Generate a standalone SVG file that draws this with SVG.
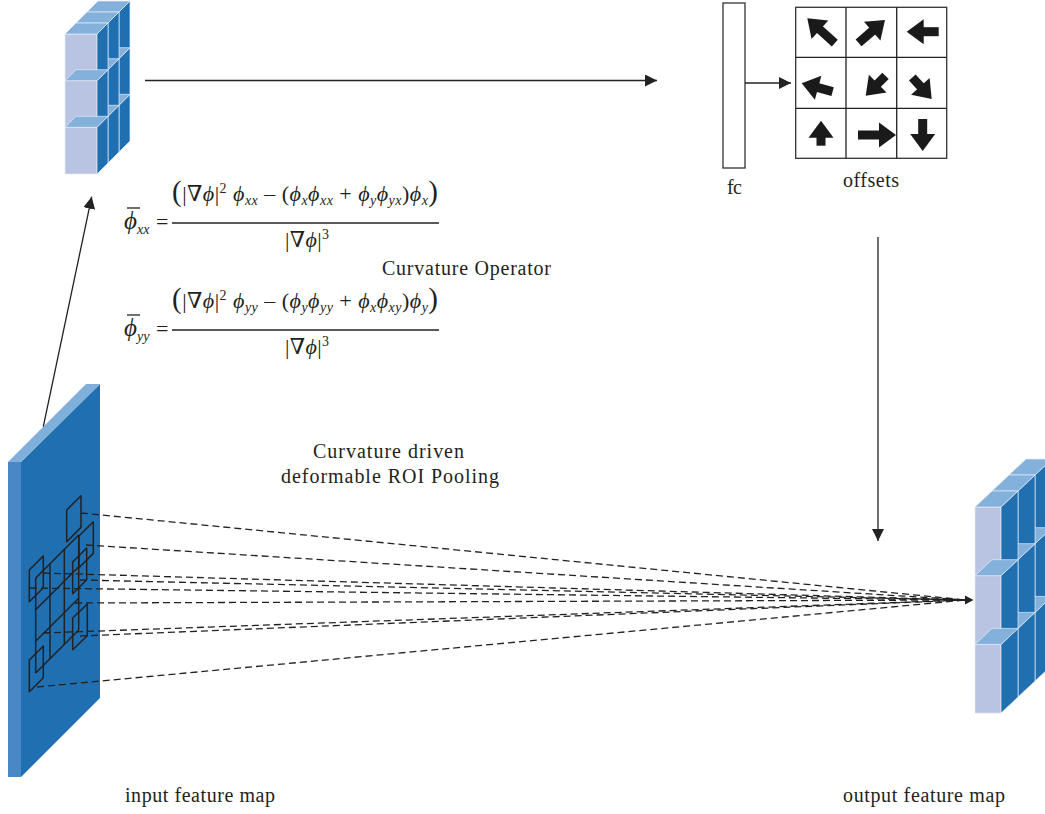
<svg xmlns="http://www.w3.org/2000/svg" xmlns:xlink="http://www.w3.org/1999/xlink" width="1045" height="814" viewBox="0 0 1045 814">
<style>
.bg{fill:#ffffff}
.cf{fill:#b9c3e2;stroke:#e6ecf6;stroke-width:0.7}
.ct{fill:#84b1dc;stroke:#e6ecf6;stroke-width:0.7}
.cs{fill:#1f6fb1;stroke:#e6ecf6;stroke-width:0.7}
.sl{fill:#4a87c6}
.sm{fill:#1f6fb1}
.st{fill:#80afdb}
.gr{fill:none;stroke:#222;stroke-width:1.5;stroke-linejoin:round}
.ln{fill:none;stroke:#222;stroke-width:1.3}
.dash{fill:none;stroke:#222;stroke-width:1.3;stroke-dasharray:7 4}
.box{fill:#fff;stroke:#333;stroke-width:1.3}
.fa{fill:#1a1a1a}
.t{font-family:"Liberation Serif","DejaVu Serif",serif;font-size:20px;fill:#231f20}
.m{font-family:"Liberation Serif","DejaVu Serif",serif;font-size:22px;fill:#231f20}
.it{font-style:italic}
.sb{font-size:14px}
.bp{font-size:29px}
.lp{font-size:25px}
</style>
<defs>
<marker id="ah" viewBox="0 0 12 12" refX="12" refY="6" markerWidth="12" markerHeight="12" markerUnits="userSpaceOnUse" orient="auto">
<path d="M0,0 L12,6 L0,12 z" fill="#222"/>
</marker>
<g id="cA">
<rect class="cf" x="0" y="0" width="32" height="46.7"/>
<polygon class="cs" points="32,0 43,-11 43,35.7 32,46.7"/>
<polygon class="ct" points="0,0 11,-11 43,-11 32,0"/>
</g>
<g id="cB">
<rect class="cf" x="0" y="0" width="26" height="68.7"/>
<polygon class="cs" points="26,0 43,-16 43,52.7 26,68.7"/>
<polygon class="ct" points="0,0 17,-16 43,-16 26,0"/>
</g>
<g id="fat">
<path d="M0,0 L-17,-12.5 L-17,12.5 Z"/>
</g>
</defs>
<rect class="bg" x="0" y="0" width="1045" height="814"/>

<g id="top-features">
<use xlink:href="#cA" x="87" y="12"/>
<use xlink:href="#cA" x="87" y="58.7"/>
<use xlink:href="#cA" x="87" y="105.3"/>
<use xlink:href="#cA" x="76" y="23"/>
<use xlink:href="#cA" x="76" y="69.7"/>
<use xlink:href="#cA" x="76" y="116.3"/>
<use xlink:href="#cA" x="65" y="34"/>
<use xlink:href="#cA" x="65" y="80.7"/>
<use xlink:href="#cA" x="65" y="127.3"/>
</g>

<g id="output-feature-map">
<use xlink:href="#cB" x="1009" y="475"/>
<use xlink:href="#cB" x="1009" y="543.7"/>
<use xlink:href="#cB" x="1009" y="612.4"/>
<use xlink:href="#cB" x="992" y="491"/>
<use xlink:href="#cB" x="992" y="559.7"/>
<use xlink:href="#cB" x="992" y="628.4"/>
<use xlink:href="#cB" x="975" y="507"/>
<use xlink:href="#cB" x="975" y="575.7"/>
<use xlink:href="#cB" x="975" y="644.4"/>
<text class="t" x="843" y="802" textLength="162">output feature map</text>
</g>

<g id="input-feature-map">
<polygon class="sl" points="8,462 21,462 21,777 8,777"/>
<polygon class="sm" points="21,462 100,384 100,698 21,777"/>
<polygon class="st" points="8,462 86,384 100,384 21,462"/>
<g id="roi-grid">
<line class="gr" x1="35.7" y1="578" x2="35.7" y2="673"/>
<line class="gr" x1="50" y1="563.7" x2="50" y2="658.7"/>
<line class="gr" x1="64.3" y1="549.4" x2="64.3" y2="644.4"/>
<line class="gr" x1="78.7" y1="535" x2="78.7" y2="630"/>
<line class="gr" x1="35.7" y1="578" x2="78.7" y2="535"/>
<line class="gr" x1="35.7" y1="609.7" x2="78.7" y2="566.7"/>
<line class="gr" x1="35.7" y1="641.3" x2="78.7" y2="598.3"/>
<line class="gr" x1="35.7" y1="673" x2="78.7" y2="630"/>
<polygon class="gr" points="66.7,510 81,495.7 81,527.4 66.7,541.7"/>
<polygon class="gr" points="79,536 93.3,521.7 93.3,553.4 79,567.7"/>
<polygon class="gr" points="72.7,562 86.7,548 86.7,579.7 72.7,593.7"/>
<polygon class="gr" points="29.3,570 43.3,556 43.3,587.7 29.3,601.7"/>
<polygon class="gr" points="72.7,618 87.3,604 87.3,635.7 72.7,649.7"/>
<polygon class="gr" points="29.3,660 43.3,646 43.3,677.7 29.3,691.7"/>
</g>
<text class="t" x="125" y="802" textLength="150">input feature map</text>
</g>

<g id="fc">
<rect class="box" x="723" y="3" width="22" height="165"/>
<text class="t" x="727" y="194" textLength="15">fc</text>
</g>

<g id="offsets">
<rect class="box" x="795.7" y="7.3" width="151" height="151"/>
<line class="ln" x1="846" y1="7.3" x2="846" y2="158.3"/>
<line class="ln" x1="896.7" y1="7.3" x2="896.7" y2="158.3"/>
<line class="ln" x1="795.7" y1="57.3" x2="946.7" y2="57.3"/>
<line class="ln" x1="795.7" y1="108.3" x2="946.7" y2="108.3"/>
<g class="fa">
<g transform="translate(807.3,18.3) rotate(-138)"><use xlink:href="#fat"/><rect x="-37" y="-4.5" width="21" height="9"/></g>
<g transform="translate(885,20) rotate(-41)"><use xlink:href="#fat"/><rect x="-35" y="-4.5" width="19" height="9"/></g>
<g transform="translate(906.7,31.7) rotate(180)"><use xlink:href="#fat"/><rect x="-32" y="-4.5" width="16" height="9"/></g>
<g transform="translate(801.7,83.3) rotate(-165)"><use xlink:href="#fat"/><rect x="-32" y="-4.5" width="16" height="9"/></g>
<g transform="translate(865.7,95.7) rotate(135)"><use xlink:href="#fat"/><rect x="-28" y="-4.5" width="12" height="9"/></g>
<g transform="translate(931.7,99) rotate(48)"><use xlink:href="#fat"/><rect x="-29" y="-4.5" width="13" height="9"/></g>
<g transform="translate(821,120.7) rotate(-90)"><use xlink:href="#fat"/><rect x="-25" y="-4.5" width="9" height="9"/></g>
<g transform="translate(896,135) rotate(0)"><use xlink:href="#fat"/><rect x="-38" y="-4.5" width="22" height="9"/></g>
<g transform="translate(922.7,151) rotate(90)"><use xlink:href="#fat"/><rect x="-32" y="-4.5" width="16" height="9"/></g>
</g>
<text class="t" x="843" y="187" textLength="56">offsets</text>
</g>

<g id="curvature-operator">
<line class="ln" x1="127" y1="208" x2="140" y2="208" stroke-width="1"/>
<text class="m"><tspan class="it lp" x="124" y="229">ϕ</tspan><tspan class="it sb" y="234">xx</tspan><tspan x="156" y="229">=</tspan></text>
<text class="m" x="172" y="201" textLength="266"><tspan class="bp">(</tspan>|∇<tspan class="it">ϕ</tspan>|<tspan class="sb" dy="-8">2</tspan><tspan dy="8"> </tspan><tspan class="it">ϕ</tspan><tspan class="it sb" dy="4">xx</tspan><tspan dy="-4"> – (</tspan><tspan class="it">ϕ</tspan><tspan class="it sb" dy="4">x</tspan><tspan class="it" dy="-4">ϕ</tspan><tspan class="it sb" dy="4">xx</tspan><tspan dy="-4"> + </tspan><tspan class="it">ϕ</tspan><tspan class="it sb" dy="4">y</tspan><tspan class="it" dy="-4">ϕ</tspan><tspan class="it sb" dy="4">yx</tspan><tspan dy="-4">)</tspan><tspan class="it">ϕ</tspan><tspan class="it sb" dy="4">x</tspan><tspan class="bp" dy="-4">)</tspan></text>
<line class="ln" x1="172" y1="223" x2="439" y2="223" stroke-width="1.1"/>
<text class="m" x="285" y="247" textLength="44">|∇<tspan class="it">ϕ</tspan>|<tspan class="sb" dy="-8">3</tspan></text>

<line class="ln" x1="127" y1="315" x2="140" y2="315" stroke-width="1"/>
<text class="m"><tspan class="it lp" x="124" y="336">ϕ</tspan><tspan class="it sb" y="341">yy</tspan><tspan x="156" y="336">=</tspan></text>
<text class="m" x="172" y="308" textLength="266"><tspan class="bp">(</tspan>|∇<tspan class="it">ϕ</tspan>|<tspan class="sb" dy="-8">2</tspan><tspan dy="8"> </tspan><tspan class="it">ϕ</tspan><tspan class="it sb" dy="4">yy</tspan><tspan dy="-4"> – (</tspan><tspan class="it">ϕ</tspan><tspan class="it sb" dy="4">y</tspan><tspan class="it" dy="-4">ϕ</tspan><tspan class="it sb" dy="4">yy</tspan><tspan dy="-4"> + </tspan><tspan class="it">ϕ</tspan><tspan class="it sb" dy="4">x</tspan><tspan class="it" dy="-4">ϕ</tspan><tspan class="it sb" dy="4">xy</tspan><tspan dy="-4">)</tspan><tspan class="it">ϕ</tspan><tspan class="it sb" dy="4">y</tspan><tspan class="bp" dy="-4">)</tspan></text>
<line class="ln" x1="172" y1="330" x2="439" y2="330" stroke-width="1.1"/>
<text class="m" x="285" y="354" textLength="44">|∇<tspan class="it">ϕ</tspan>|<tspan class="sb" dy="-8">3</tspan></text>

<text class="t" x="382" y="275" textLength="169">Curvature Operator</text>
</g>

<g id="pooling-label">
<text class="t" x="313" y="458" textLength="151">Curvature driven</text>
<text class="t" x="281" y="483" textLength="218">deformable ROI Pooling</text>
</g>

<g id="connectors">
<line class="ln" x1="145" y1="80.5" x2="657" y2="80.5" marker-end="url(#ah)"/>
<line class="ln" x1="745" y1="83" x2="791" y2="83" marker-end="url(#ah)"/>
<line class="ln" x1="878" y1="237" x2="878" y2="541" marker-end="url(#ah)"/>
<line class="ln" x1="43.3" y1="426.7" x2="91.7" y2="196.7" marker-end="url(#ah)"/>
<line class="dash" x1="81" y1="513" x2="966" y2="600"/>
<line class="dash" x1="86" y1="545" x2="966" y2="600"/>
<line class="dash" x1="43" y1="573" x2="966" y2="600"/>
<line class="dash" x1="80" y1="580" x2="966" y2="600"/>
<line class="dash" x1="30" y1="588" x2="966" y2="600"/>
<line class="dash" x1="75" y1="603" x2="966" y2="600"/>
<line class="dash" x1="43" y1="633" x2="966" y2="600"/>
<line class="dash" x1="80" y1="636" x2="966" y2="600"/>
<line class="dash" x1="37" y1="687" x2="966" y2="600"/>
<path d="M965,595.5 L973.5,600 L965,604.5 Z" fill="#222"/>
</g>
</svg>
